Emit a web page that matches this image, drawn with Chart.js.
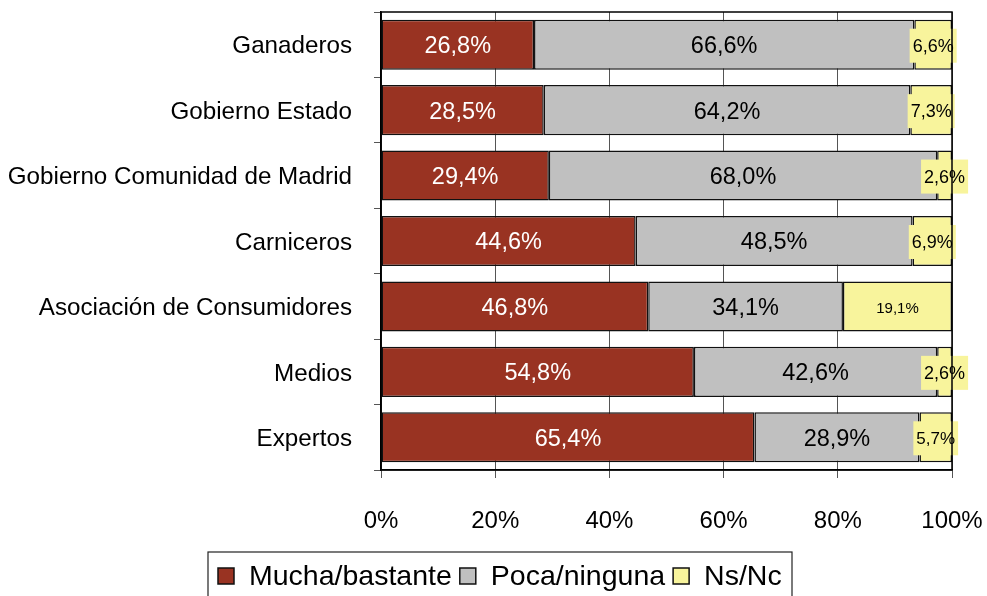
<!DOCTYPE html>
<html>
<head>
<meta charset="utf-8">
<script src="https://cdn.jsdelivr.net/npm/chart.js@4.4.1/dist/chart.umd.min.js"></script>
<style>
  html, body { margin: 0; padding: 0; background: #fff; }
  #wrap { width: 987px; height: 596px; }
</style>
</head>
<body>
<div id="wrap"><canvas id="chart" width="987" height="596"></canvas></div>
<script>
const categories = [
  'Ganaderos',
  'Gobierno Estado',
  'Gobierno Comunidad de Madrid',
  'Carniceros',
  'Asociación de Consumidores',
  'Medios',
  'Expertos'
]
const mucha = [26.8, 28.5, 29.4, 44.6, 46.8, 54.8, 65.4]
const poca = [66.6, 64.2, 68.0, 48.5, 34.1, 42.6, 28.9]
const nsnc = [6.6, 7.3, 2.6, 6.9, 19.1, 2.6, 5.7]
const xTicks = [0, 20, 40, 60, 80, 100]

const COLORS = {
  red: '#993322',
  gray: '#C0C0C0',
  yellow: '#F8F49C',
  line: '#111111',
  grid: '#555555',
}
const FONT = '"Liberation Sans", Arial, sans-serif'
// Excel shrank the Ns/Nc labels a bit differently per bar
const nsFontSize = [18, 18, 18, 18, 15, 18, 17]

const fmt = v => v.toFixed(1).replace('.', ',') + '%'

const barLabels = {
  id: 'barLabels',
  afterDatasetsDraw(chart) {
    const ctx = chart.ctx
    ctx.save()
    ctx.textAlign = 'center'
    ctx.textBaseline = 'middle'
    chart.data.datasets.forEach((ds, di) => {
      chart.getDatasetMeta(di).data.forEach((bar, i) => {
        const cx = (bar.x + bar.base) / 2
        const cy = bar.y + 1
        const txt = fmt(ds.data[i])
        if (di === 2) {
          ctx.font = nsFontSize[i] + 'px ' + FONT
          const w = ctx.measureText(txt).width
          const segW = Math.abs(bar.x - bar.base)
          if (w + 4 > segW) {
            ctx.fillStyle = COLORS.yellow
            ctx.fillRect(cx - w / 2 - 3, cy - 17, w + 6, 34)
          }
          ctx.fillStyle = '#000'
        } else {
          ctx.font = '23.5px ' + FONT
          ctx.fillStyle = di === 0 ? '#fff' : '#000'
        }
        ctx.fillText(txt, cx, cy + 1)
      })
    })
    ctx.restore()
  }
}

const frameAndLegend = {
  id: 'frameAndLegend',
  afterDraw(chart) {
    const ctx = chart.ctx
    const a = chart.chartArea
    ctx.save()
    ctx.strokeStyle = '#000'
    ctx.lineWidth = 1.5
    ctx.strokeRect(a.left, a.top, a.right - a.left, a.bottom - a.top)

    // legend box
    const boxL = 208, boxT = 552, boxR = 792
    ctx.lineWidth = 1.2
    ctx.strokeStyle = '#222'
    ctx.strokeRect(boxL, boxT, boxR - boxL, 60)
    ctx.font = '28.5px ' + FONT
    ctx.textBaseline = 'middle'
    ctx.textAlign = 'left'
    let x = 218
    const cy = 577
    chart.data.datasets.forEach(ds => {
      ctx.fillStyle = ds.backgroundColor
      ctx.fillRect(x, cy - 9, 16, 16)
      ctx.strokeStyle = '#111'
      ctx.lineWidth = 1.5
      ctx.strokeRect(x, cy - 9, 16, 16)
      x += 31
      ctx.fillStyle = '#000'
      ctx.fillText(ds.label, x, cy)
      x += ctx.measureText(ds.label).width + 8
    })
    ctx.restore()
  }
}

const mkDataset = (label, data, color) => ({
  label, data,
  backgroundColor: color,
  borderColor: COLORS.line,
  borderWidth: 1.5,
  borderSkipped: false,
  barPercentage: 0.765,
  categoryPercentage: 1,
})

new Chart(document.getElementById('chart'), {
  type: 'bar',
  data: {
    labels: categories,
    datasets: [
      mkDataset('Mucha/bastante', mucha, COLORS.red),
      mkDataset('Poca/ninguna', poca, COLORS.gray),
      mkDataset('Ns/Nc', nsnc, COLORS.yellow),
    ]
  },
  options: {
    indexAxis: 'y',
    responsive: false,
    animation: false,
    layout: { padding: { left: 0, top: 12, right: 35, bottom: 56 } },
    plugins: {
      legend: { display: false },
      tooltip: { enabled: false },
    },
    scales: {
      x: {
        stacked: true,
        min: 0,
        max: 100,
        afterBuildTicks: s => { s.ticks = xTicks.map(v => ({ value: v })) },
        afterFit: s => {
          s.height = 70
          s.paddingLeft = 0
          s.paddingRight = 0
        },
        grid: { color: COLORS.grid, lineWidth: 1, tickLength: 8, drawTicks: true },
        border: { color: '#000', width: 1.5 },
        ticks: {
          callback: v => v + '%',
          color: '#000',
          font: { family: FONT, size: 24 },
          padding: 29,
          maxRotation: 0,
        }
      },
      y: {
        stacked: true,
        offset: true,
        afterFit: s => {
          s.width = 381
          s.paddingTop = 0
          s.paddingBottom = 0
        },
        grid: { offset: true, drawOnChartArea: false, tickLength: 7, color: COLORS.grid },
        border: { color: '#000', width: 1.5 },
        ticks: {
          color: '#000',
          font: { family: FONT, size: 24.2 },
          padding: 22,
          labelOffset: 2,
        }
      }
    }
  },
  plugins: [barLabels, frameAndLegend]
})
</script>
</body>
</html>
